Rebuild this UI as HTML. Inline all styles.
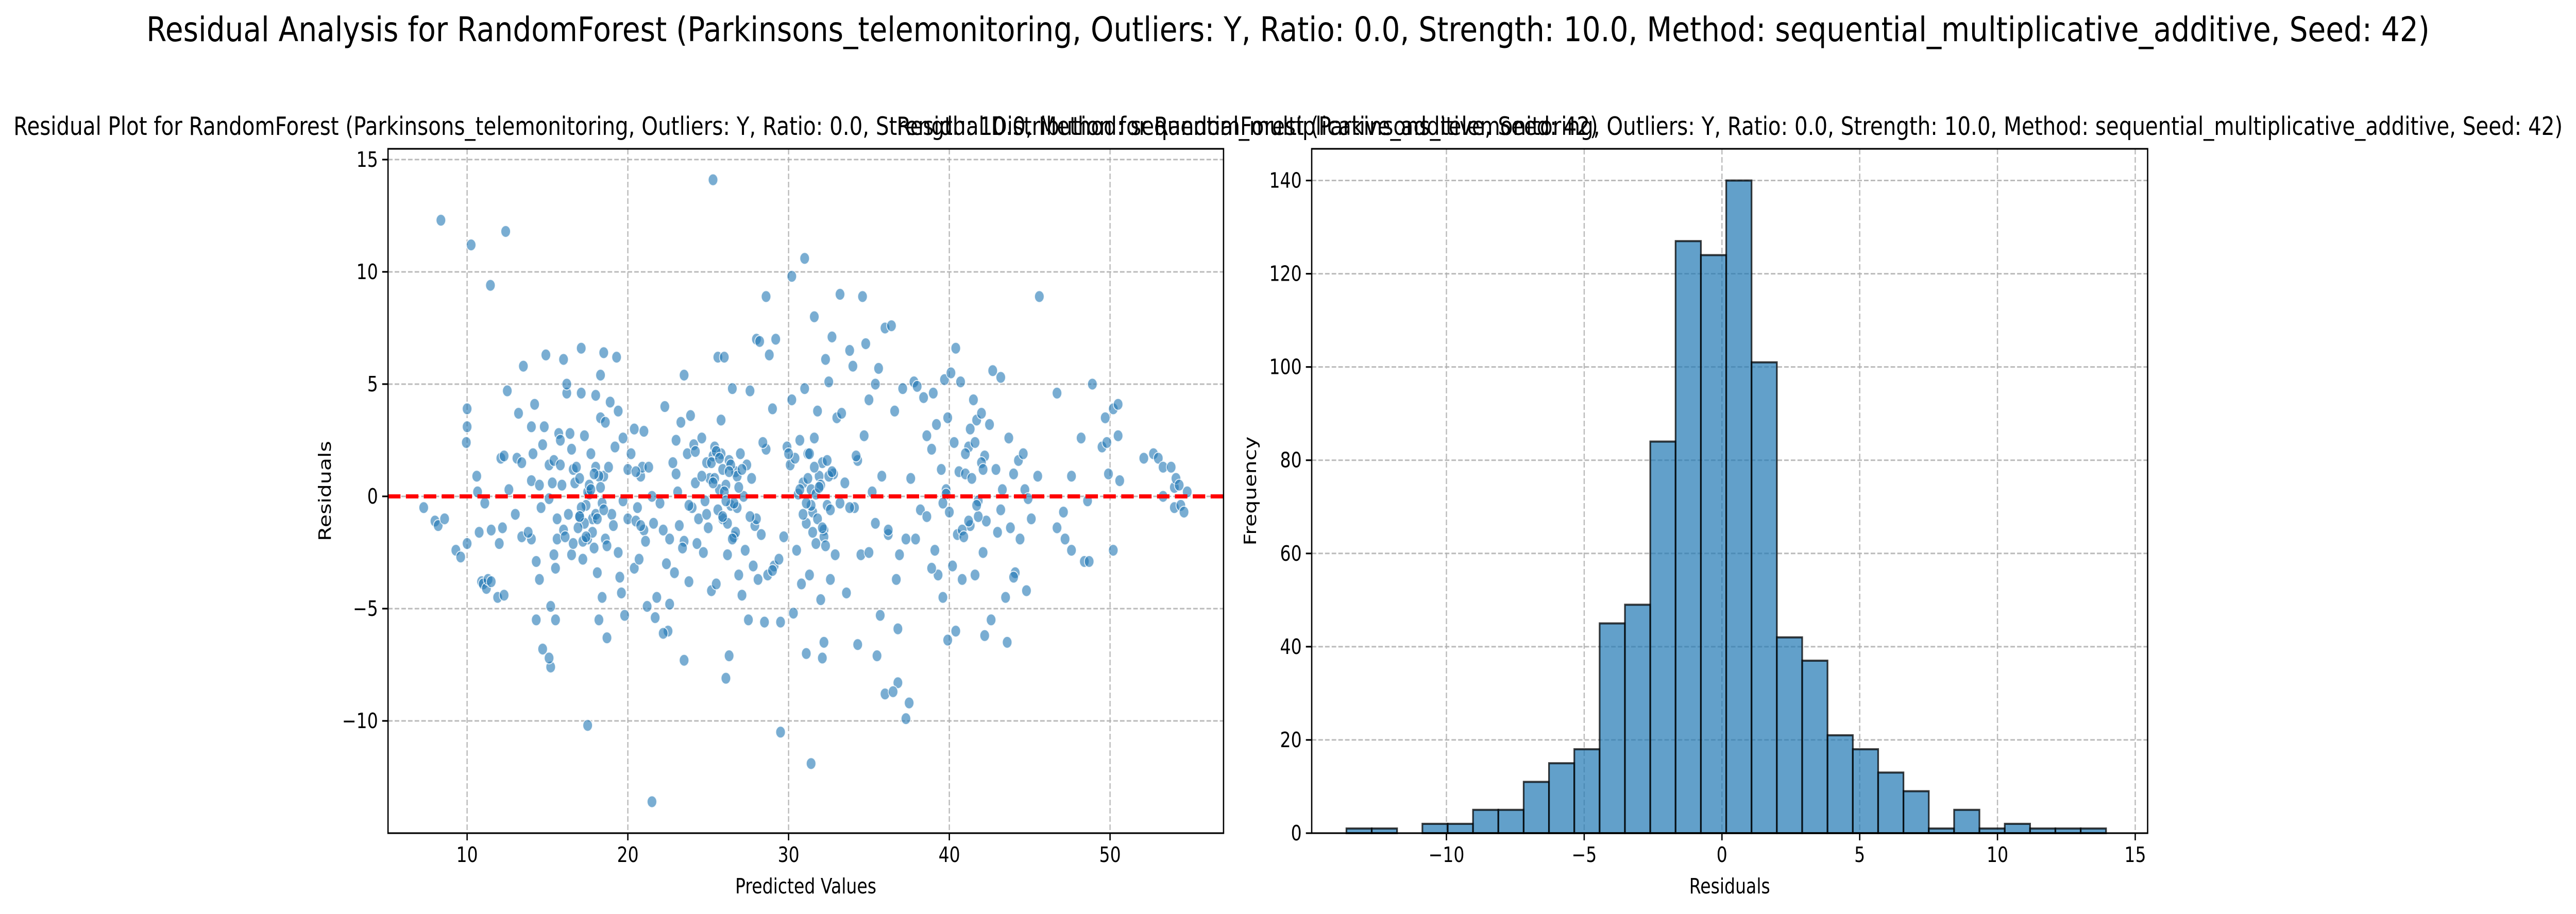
<!DOCTYPE html>
<html><head><meta charset="utf-8"><style>
html,body{margin:0;padding:0;background:#fff;overflow:hidden;}
svg{display:block;font-family:"DejaVu Sans","Liberation Sans",sans-serif;}
</style></head><body>
<svg id="fig" xmlns="http://www.w3.org/2000/svg" style="width:100vw;height:100vh" viewBox="0 0 6194 1775" preserveAspectRatio="none">
<rect width="6194" height="1775" fill="#fff"/>
<text x="3097" y="80" font-size="66" text-anchor="middle" textLength="5490" lengthAdjust="spacingAndGlyphs">Residual Analysis for RandomForest (Parkinsons_telemonitoring, Outliers: Y, Ratio: 0.0, Strength: 10.0, Method: sequential_multiplicative_additive, Seed: 42)</text>
<g id="left"></g>
<g id="right"></g>
</svg>
<script>
// ---------- scatter data: [predicted, residual] ----------
const mainPoints = [[7.3,-0.5],[8.0,-1.1],[8.2,-1.3],[8.6,-1.0],[9.3,-2.4],[9.6,-2.7],[10,3.9],[10,3.1],[9.95,2.4],[10,-2.1],[10.6,0.9],[10.65,0.2],[10.75,-1.6],[10.9,-3.8],[11,-3.9],[11.1,-0.3],[11.2,-4.1],[11.3,-3.7],[11.5,-3.8],[11.5,-1.5],[11.9,-4.5],[12,-2.1],[12.1,1.7],[12.2,-1.4],[12.3,1.8],[12.3,-4.4],[12.5,4.7],[12.6,0.3],[13,-0.8],[13.1,1.7],[13.2,3.7],[13.4,-1.8],[13.4,1.5],[13.5,5.8],[14,3.1],[14,0.7],[14,-1.9],[14.1,1.9],[14.3,-2.9],[14.3,-5.5],[14.5,-3.7],[14.5,0.5],[14.6,-0.5],[14.7,2.3],[14.8,3.1],[14.9,6.3],[15.1,1.4],[15.1,-0.1],[15.2,-4.9],[15.3,0.6],[15.4,1.6],[15.4,-2.6],[15.5,-3.2],[15.5,-5.5],[15.6,-1.0],[15.6,-1.9],[15.7,2.8],[15.8,1.4],[15.8,2.5],[15.9,0.5],[16.0,6.1],[16.0,-1.5],[16.1,-1.8],[16.2,4.6],[16.2,5.0],[16.3,-0.8],[16.5,2.1],[16.5,-2.6],[16.6,1.2],[16.6,-2.1],[16.7,0.6],[16.8,1.3],[17.0,0.8],[17.0,-0.9],[17.1,6.6],[17.1,4.6],[17.2,-2.8],[17.3,2.7],[17.4,-0.4],[17.5,-1.9],[17.6,0.1],[17.7,1.9],[17.8,-1.0],[17.9,-2.3],[18.0,4.5],[18.0,1.3],[18.1,-3.4],[18.2,-5.5],[18.3,5.4],[18.3,3.5],[18.4,-4.5],[18.5,6.4],[18.5,0.9],[18.6,-1.9],[18.6,3.3],[18.8,1.3],[18.9,4.2],[19.0,-0.8],[19.1,-1.3],[19.2,2.2],[19.3,6.2],[19.4,3.8],[19.4,-2.5],[19.5,-3.6],[19.7,2.6],[19.7,-0.2],[19.8,-5.3],[20.0,1.2],[20.0,-1.0],[20.2,1.9],[20.4,3.0],[20.4,-3.2],[20.5,-1.1],[20.6,-0.5],[20.7,-2.8],[20.8,0.9],[20.9,1.3],[21.0,-1.5],[21.1,-2.0],[21.2,-4.9],[21.3,1.3],[21.5,0.0],[21.6,-1.2],[21.7,-5.4],[22,-0.3],[22.2,-1.5],[22.3,4.0],[22.4,-3.0],[22.5,-6.0],[22.6,-4.8],[22.8,1.5],[22.9,-3.4],[23,2.5],[23.1,0.2],[23.2,-1.3],[23.3,3.3],[23.5,5.4],[23.5,-2.0],[23.7,1.9],[23.8,-3.8],[23.9,3.6],[24.0,-0.5],[24.1,2.3],[24.2,0.6],[24.3,-2.1],[24.4,-1.0],[24.6,2.6],[24.7,-2.5],[24.8,-0.2],[24.9,1.5],[25.0,-1.4],[25.1,0.8],[25.2,-4.2],[25.3,1.8],[25.4,2.2],[25.5,-3.9],[25.6,6.2],[25.7,0.3],[25.8,3.4],[25.9,1.2],[25.9,-1.0],[26.0,6.2],[26.1,0.5],[26.2,-2.6],[26.3,1.6],[26.4,-0.4],[26.5,4.8],[26.6,-1.8],[26.7,1.1],[26.8,-0.5],[26.9,-3.5],[27.0,1.9],[27.1,-4.4],[27.2,0.0],[27.3,-2.4],[27.4,1.4],[27.5,-5.5],[27.6,4.7],[27.7,0.8],[27.8,-3.1],[27.9,-1.3],[28.0,7.0],[28.1,-3.7],[28.2,6.9],[28.3,-1.7],[28.5,-5.6],[28.6,2.1],[28.7,-3.5],[28.8,6.3],[29,3.9],[29.1,-3.1],[29.2,7.0],[29.4,-2.8],[29.5,-5.6],[29.7,-1.8],[29.9,2.2],[30.1,1.4],[30.2,4.3],[30.3,-5.2],[30.4,1.7],[30.5,-2.4],[30.6,0.1],[30.7,2.5],[30.8,-3.9],[30.9,0.6],[31.0,4.8],[31.1,-1.2],[31.2,1.9],[31.3,-3.5],[31.4,0.3],[31.5,-0.7],[31.6,2.6],[31.7,-2.1],[31.8,3.8],[31.9,0.9],[32.0,-4.6],[32.1,1.5],[32.2,-1.5],[32.3,6.1],[32.4,-0.4],[32.5,5.1],[32.6,-3.7],[32.7,7.1],[32.8,1.0],[32.9,-2.6],[33.0,3.5],[33.2,-0.3],[33.3,3.7],[33.5,0.6],[33.6,-4.3],[33.8,6.5],[34,5.8],[34.1,-0.5],[34.3,1.6],[34.5,-2.6],[34.7,2.7],[34.8,6.8],[35.0,4.3],[35.2,0.2],[35.4,5.0],[35.6,5.7],[35.7,-5.3],[35.8,0.9],[36.0,7.5],[36.2,-1.7],[36.4,7.6],[36.6,3.8],[36.7,-3.7],[36.9,-2.6],[37.1,4.8],[37.3,-1.9],[37.6,0.8],[37.8,5.1],[37.9,-1.9],[38.0,4.9],[38.2,-0.6],[38.4,4.4],[38.6,-0.9],[38.9,2.1],[39.0,4.6],[39.1,-2.4],[39.2,3.2],[39.3,-3.5],[39.5,1.2],[39.6,-4.5],[39.7,5.2],[39.8,0.3],[39.9,3.5],[40.0,-0.7],[40.1,5.5],[40.2,-3.1],[40.3,2.4],[40.4,6.6],[40.5,-1.7],[40.6,1.1],[40.7,5.1],[40.8,-3.7],[41.0,1.0],[41.2,2.2],[41.3,-1.3],[41.5,4.3],[41.6,-3.5],[41.7,3.4],[41.8,-0.2],[42.0,3.7],[42.1,-2.5],[42.2,1.8],[42.3,-1.1],[42.5,3.2],[42.6,-5.5],[42.7,5.6],[42.9,1.2],[43.0,-1.6],[43.2,5.3],[43.3,0.3],[43.5,-4.5],[43.7,2.6],[43.8,-1.4],[44.0,1.0],[44.1,-3.4],[44.3,1.6],[44.4,-1.9],[44.6,1.9],[44.7,0.3],[44.9,-0.1],[45.1,-1.0],[44.8,-4.2],[45.5,0.9],[46.7,-1.4],[46.7,4.6],[47.1,-0.7],[47.2,-1.9],[47.6,-2.4],[47.6,0.9],[48.2,2.6],[48.4,-2.9],[48.6,-0.2],[48.7,-2.9],[48.9,5.0],[49.5,2.2],[49.7,3.5],[49.9,1.0],[49.8,2.4],[50.2,3.9],[50.5,4.1],[50.5,2.7],[50.6,0.7],[50.2,-2.4],[52.1,1.7],[52.7,1.9],[53.0,1.7],[53.3,1.3],[53.3,0.0],[53.8,1.3],[54.0,0.4],[54.1,0.8],[54.0,-0.5],[54.3,0.5],[54.4,-0.4],[54.6,-0.7],[54.8,0.2]];
const outlierPoints = [[8.37,12.3],[10.25,11.2],[12.4,11.8],[11.45,9.4],[25.3,14.1],[31.0,10.6],[30.2,9.8],[45.6,8.9],[33.2,9.0],[34.6,8.9],[28.6,8.9],[31.6,8.0],[17.5,-10.2],[29.5,-10.5],[31.4,-11.9],[21.5,-13.6],[37.3,-9.9],[37.5,-9.2],[36.8,-8.3],[36.0,-8.8],[36.5,-8.7],[26.1,-8.1],[26.3,-7.1],[23.5,-7.3],[15.2,-7.6],[14.7,-6.8],[15.1,-7.2],[31.1,-7.0],[32.1,-7.2],[34.3,-6.6],[35.5,-7.1],[39.9,-6.4],[43.6,-6.5],[42.2,-6.2],[18.7,-6.3],[22.2,-6.1],[32.2,-6.5],[36.8,-5.9],[40.4,-6.0]];
const clusterPoints = [[17.1,-0.5],[17.3,-1.2],[17.5,0.2],[17.8,-1.6],[18.0,-0.8],[18.2,0.9],[18.4,-0.3],[17.2,-2.0],[17.6,0.5],[18.1,-1.0],[18.5,-0.6],[17.9,1.0],[16.9,-1.4],[17.4,-1.8],[18.3,0.4],[18.7,-2.2],[17.0,-0.9],[17.7,0.3],
[25.2,1.5],[25.4,0.8],[25.6,-0.6],[25.8,1.9],[26.0,0.2],[26.2,-1.2],[26.4,1.4],[26.6,-0.3],[26.8,0.9],[25.5,2.0],[25.9,-0.9],[26.3,1.1],[26.7,-1.6],[25.3,0.6],[25.7,1.7],[26.1,-0.2],[26.5,-1.9],[26.9,0.4],[27.1,1.2],[24.9,-0.8],
[31.2,0.8],[31.4,-0.4],[31.6,1.3],[31.8,-1.0],[32.0,0.5],[32.2,-1.8],[32.4,1.6],[32.6,-0.6],[31.3,1.9],[31.7,0.1],[32.1,-1.4],[32.5,0.9],[30.9,-0.8],[31.5,-1.6],[31.9,0.4],[32.3,-2.2],[32.7,1.1],[30.7,0.3],[31.1,-0.3],
[40.8,-1.5],[41.0,1.9],[41.2,-1.1],[41.4,0.8],[41.6,2.4],[41.8,-0.9],[42.0,1.5],[40.9,-1.8],[41.3,3.0],[41.7,-0.4],[42.1,1.2],[39.8,0.1],[39.6,-0.3],
[20.5,1.1],[20.8,-1.3],[21.0,2.9],[22.6,-1.9],[23.0,1.0],[23.4,-2.3],[23.8,-0.4],[24.2,2.0],[24.6,0.9],[28.0,-1.0],[28.4,2.4],[29.0,-3.3],[33.8,-0.5],[34.2,1.8],[35.0,-2.5],[36.2,-1.5],[38.6,2.7],[38.9,-3.2],[43.2,-0.6],[44.0,-3.6],[13.8,-1.6],[14.2,4.1],[16.4,2.8],[19.6,-4.3],[21.8,-4.5],[27.6,-0.9],[30.0,1.9],[35.4,-1.2]];
const allPoints = mainPoints.concat(outlierPoints, clusterPoints);
const predicted = allPoints.map(p => p[0]);
const residuals = allPoints.map(p => p[1]);
const xTicks = [10,20,30,40,50];
const yTicks = [-10,-5,0,5,10,15];
// ---------- histogram data ----------
const binCounts = [1,1,0,2,2,5,5,11,15,18,45,49,84,127,124,140,101,42,37,21,18,13,9,1,5,1,2,1,1,1];
const binMin = -13.63, binMax = 13.94;
const hxTicks = [-10,-5,0,5,10,15];
const hyTicks = [0,20,40,60,80,100,120,140];

const NS = "http://www.w3.org/2000/svg";
function mk(parent, tag, attrs, text){
  const e = document.createElementNS(NS, tag);
  for (const k in attrs) e.setAttribute(k, attrs[k]);
  if (text !== undefined) e.textContent = text;
  parent.appendChild(e); return e;
}
function fmt(v){ return v < 0 ? "\u2212" + Math.abs(v) : String(v); }

// ===== Left scatter =====
(function(){
  const g = document.getElementById('left');
  const L=933,R=2942,T=289,B=1618;
  const xMin=5.08,xMax=57.06,yMin=-15.0,yMax=15.48;
  const sx = v => L + (v-xMin)/(xMax-xMin)*(R-L);
  const sy = v => B - (v-yMin)/(yMax-yMin)*(B-T);
  const t = mk(g,'text',{x:(L+R)/2,y:262,'font-size':49,'text-anchor':'middle',textLength:3810,lengthAdjust:'spacingAndGlyphs'},'Residual Plot for RandomForest (Parkinsons_telemonitoring, Outliers: Y, Ratio: 0.0, Strength: 10.0, Method: sequential_multiplicative_additive, Seed: 42)');
  
  
  xTicks.forEach(v=>{
    const x=sx(v);
    const gl=mk(g,'line',{x1:x,x2:x,y1:T,y2:B,stroke:'#b0b0b0','stroke-width':3,'stroke-dasharray':'11,5','opacity':0.85});
    
    
    mk(g,'line',{x1:x,x2:x,y1:B,y2:B+14,stroke:'#000','stroke-width':3.2});
    const lb=mk(g,'text',{x:x,y:B+56,'font-size':41,'text-anchor':'middle'},fmt(v));
    
    
  });
  yTicks.forEach(v=>{
    const y=sy(v);
    const gl=mk(g,'line',{x1:L,x2:R,y1:y,y2:y,stroke:'#b0b0b0','stroke-width':3,'stroke-dasharray':'11,5','opacity':0.85});
    
    
    mk(g,'line',{x1:L-14,x2:L,y1:y,y2:y,stroke:'#000','stroke-width':3.2});
    const lb=mk(g,'text',{x:L-24,y:y+14,'font-size':41,'text-anchor':'end'},fmt(v));
    
    
  });
  for(let i=0;i<predicted.length;i++){
    const c=mk(g,'circle',{cx:sx(predicted[i]),cy:sy(residuals[i]),r:11.5,fill:'#1f77b4','fill-opacity':0.6,stroke:'#fff','stroke-width':2,'stroke-opacity':0.8});
    
    
  }
  const zl=mk(g,'line',{x1:L,x2:R,y1:sy(0),y2:sy(0),stroke:'#ff0000','stroke-width':8,'stroke-dasharray':'30,13'});
  
  
  const fr=mk(g,'rect',{x:L,y:T,width:R-L,height:B-T,fill:'none',stroke:'#000','stroke-width':3.2});
  
  
  const xl=mk(g,'text',{x:(L+R)/2,y:1735,'font-size':41,'text-anchor':'middle'},'Predicted Values');
  
  
  const yl=mk(g,'text',{x:0,y:0,'font-size':41,'text-anchor':'middle',transform:`translate(795,${(T+B)/2}) rotate(-90)`},'Residuals');
  
  
})();

// ===== Right histogram =====
(function(){
  const g = document.getElementById('right');
  const L=3154,R=5164,T=289,B=1618;
  const xMin=-14.89,xMax=15.45,yMin=0,yMax=146.8;
  const sx = v => L + (v-xMin)/(xMax-xMin)*(R-L);
  const sy = v => B - (v-yMin)/(yMax-yMin)*(B-T);
  const t=mk(g,'text',{x:(L+R)/2,y:262,'font-size':49,'text-anchor':'middle',textLength:4006,lengthAdjust:'spacingAndGlyphs'},'Residual Distribution for RandomForest (Parkinsons_telemonitoring, Outliers: Y, Ratio: 0.0, Strength: 10.0, Method: sequential_multiplicative_additive, Seed: 42)');
  
  
  hxTicks.forEach(v=>{
    const x=sx(v);
    const gl=mk(g,'line',{x1:x,x2:x,y1:T,y2:B,stroke:'#b0b0b0','stroke-width':3,'stroke-dasharray':'11,5','opacity':0.85});
    
    
    mk(g,'line',{x1:x,x2:x,y1:B,y2:B+14,stroke:'#000','stroke-width':3.2});
    const lb=mk(g,'text',{x:x,y:B+56,'font-size':41,'text-anchor':'middle'},fmt(v));
    
    
  });
  hyTicks.forEach(v=>{
    const y=sy(v);
    const gl=mk(g,'line',{x1:L,x2:R,y1:y,y2:y,stroke:'#b0b0b0','stroke-width':3,'stroke-dasharray':'11,5','opacity':0.85});
    
    
    mk(g,'line',{x1:L-14,x2:L,y1:y,y2:y,stroke:'#000','stroke-width':3.2});
    const lb=mk(g,'text',{x:L-24,y:y+14,'font-size':41,'text-anchor':'end'},String(v));
    
    
  });
  const w=(binMax-binMin)/binCounts.length;
  binCounts.forEach((c,i)=>{
    const x0=sx(binMin+i*w), x1=sx(binMin+(i+1)*w);
    const b=mk(g,'rect',{x:x0,y:sy(c),width:x1-x0,height:sy(0)-sy(c),fill:'#1f77b4','fill-opacity':0.7,stroke:'#000','stroke-opacity':0.75,'stroke-width':4});
    
    
  });
  const fr=mk(g,'rect',{x:L,y:T,width:R-L,height:B-T,fill:'none',stroke:'#000','stroke-width':3.2});
  
  
  const xl=mk(g,'text',{x:(L+R)/2,y:1735,'font-size':41,'text-anchor':'middle'},'Residuals');
  
  
  const yl=mk(g,'text',{x:0,y:0,'font-size':41,'text-anchor':'middle',transform:`translate(3020,${(T+B)/2}) rotate(-90)`},'Frequency');
  
  
})();
</script>
</body></html>
